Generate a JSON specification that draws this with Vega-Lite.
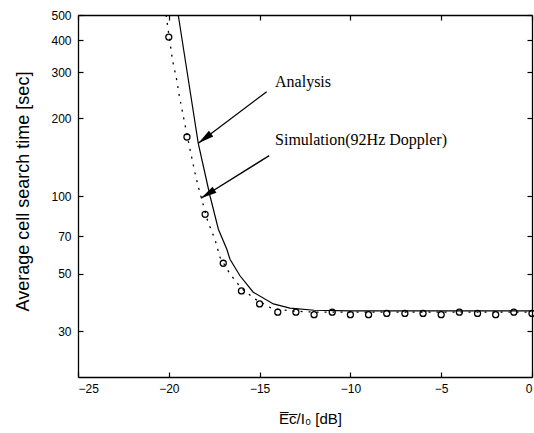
{
  "$schema": "https://vega.github.io/schema/vega-lite/v6.json",
  "autosize": "none",
  "width": 454,
  "height": 362,
  "padding": {"left": 78, "top": 15, "right": 2, "bottom": 56},
  "background": "white",
  "config": {
    "view": {"stroke": null},
    "axis": {
      "domainColor": "#000",
      "domainWidth": 1.3,
      "tickColor": "#000",
      "tickWidth": 1.2,
      "tickSize": 5,
      "grid": false,
      "labelFont": "Liberation Sans",
      "labelFontSize": 12,
      "labelColor": "#000",
      "titleFont": "Liberation Sans",
      "titleColor": "#000",
      "titleFontWeight": "normal"
    }
  },
  "datasets": {
    "analysis": [
      {"x": -19.48, "y": 500},
      {"x": -19.04, "y": 317},
      {"x": -18.38, "y": 160},
      {"x": -17.73, "y": 100},
      {"x": -17.27, "y": 74.4},
      {"x": -16.81, "y": 62.4},
      {"x": -16.63, "y": 57},
      {"x": -16.08, "y": 49.2},
      {"x": -15.35, "y": 42.5},
      {"x": -14.24, "y": 38.3},
      {"x": -13.33, "y": 36.9},
      {"x": -12, "y": 36.2},
      {"x": -10, "y": 36.0},
      {"x": 0, "y": 36.0}
    ],
    "sim": [
      {"x": -20.15, "y": 500},
      {"x": -19.8, "y": 336},
      {"x": -19.57, "y": 282},
      {"x": -19.42, "y": 243},
      {"x": -19.2, "y": 203},
      {"x": -18.83, "y": 151},
      {"x": -18.56, "y": 123},
      {"x": -18.38, "y": 109},
      {"x": -17.86, "y": 80},
      {"x": -17.46, "y": 68},
      {"x": -17.18, "y": 58},
      {"x": -16.63, "y": 50},
      {"x": -16.0, "y": 44},
      {"x": -15.25, "y": 40},
      {"x": -14.33, "y": 36.8},
      {"x": -13.3, "y": 36.0},
      {"x": -12, "y": 35.6},
      {"x": 0, "y": 35.6}
    ],
    "circles": [
      {"x": -20, "y": 411},
      {"x": -19, "y": 169},
      {"x": -18, "y": 85},
      {"x": -17, "y": 55},
      {"x": -16, "y": 43},
      {"x": -15, "y": 38.3},
      {"x": -14, "y": 35.6},
      {"x": -13, "y": 35.6},
      {"x": -12, "y": 34.8},
      {"x": -11, "y": 35.6},
      {"x": -10, "y": 34.8},
      {"x": -9, "y": 34.8},
      {"x": -8, "y": 35.2},
      {"x": -7, "y": 35.2},
      {"x": -6, "y": 35.2},
      {"x": -5, "y": 34.8},
      {"x": -4, "y": 35.6},
      {"x": -3, "y": 35.2},
      {"x": -2, "y": 34.8},
      {"x": -1, "y": 35.6},
      {"x": 0, "y": 35.2}
    ],
    "arrows": [
      {"name": "Analysis", "x": -14.61, "y": 252.8, "x2": -18.375, "y2": 159.8, "angle": 233},
      {"name": "Simulation", "x": -14.47, "y": 143.2, "x2": -18.23, "y2": 98.0, "angle": 238}
    ],
    "labels": [
      {"text": "Analysis", "x": -14.15, "y": 264.3},
      {"text": "Simulation(92Hz Doppler)", "x": -14.15, "y": 157.4}
    ]
  },
  "layer": [
    {
      "data": {"name": "analysis"},
      "mark": {"type": "line", "color": "#000", "strokeWidth": 1.2},
      "encoding": {
        "x": {
          "field": "x", "type": "quantitative",
          "scale": {"domain": [-25, 0], "nice": false, "zero": false},
          "axis": {
            "orient": "bottom",
            "values": [-25, -20, -15, -10, -5, 0],
            "format": "d",
            "ticks": false,
            "labelPadding": 6,
            "title": "E̅c̅/I₀ [dB]",
            "titleFontSize": 15,
            "titleX": 232,
            "titleY": 46,
            "titleAlign": "center",
            "titleBaseline": "alphabetic"
          }
        },
        "y": {
          "field": "y", "type": "quantitative",
          "scale": {"type": "log", "domain": [20, 500], "nice": false},
          "axis": {
            "orient": "left",
            "values": [30, 50, 70, 100, 200, 300, 400, 500],
            "format": "d",
            "ticks": false,
            "labelPadding": 7,
            "title": "Average cell search time [sec]",
            "titleFontSize": 18,
            "titleX": -55,
            "titleY": 176,
            "titleAngle": -90,
            "titleAlign": "center",
            "titleBaseline": "middle"
          }
        }
      }
    },
    {
      "data": {"name": "sim"},
      "mark": {"type": "line", "color": "#000", "strokeWidth": 1.3, "strokeDash": [2, 6]},
      "encoding": {
        "x": {
          "field": "x", "type": "quantitative",
          "scale": {"domain": [-25, 0], "nice": false, "zero": false},
          "axis": {
            "orient": "bottom",
            "offset": -362,
            "values": [-25, -20, -15, -10, -5, 0],
            "labels": false,
            "title": null
          }
        },
        "y": {
          "field": "y", "type": "quantitative",
          "scale": {"type": "log", "domain": [20, 500], "nice": false},
          "axis": {
            "orient": "left",
            "offset": -454,
            "values": [30, 50, 70, 100, 200, 300, 400, 500],
            "labels": false,
            "title": null
          }
        }
      }
    },
    {
      "data": {"name": "circles"},
      "mark": {"type": "point", "shape": "circle", "filled": false, "color": "#000", "strokeWidth": 1.3, "size": 36, "opacity": 1},
      "encoding": {
        "x": {
          "field": "x", "type": "quantitative",
          "axis": {
            "orient": "top",
            "offset": -362,
            "values": [-25, -20, -15, -10, -5, 0],
            "labels": false,
            "domain": false,
            "title": null
          }
        },
        "y": {
          "field": "y", "type": "quantitative",
          "axis": {
            "orient": "right",
            "offset": -454,
            "values": [30, 50, 70, 100, 200, 300, 400, 500],
            "labels": false,
            "domain": false,
            "title": null
          }
        }
      }
    },
    {
      "data": {"name": "arrows"},
      "mark": {"type": "rule", "color": "#000", "strokeWidth": 1.3},
      "encoding": {
        "x": {"field": "x", "type": "quantitative", "axis": null},
        "y": {"field": "y", "type": "quantitative", "axis": null},
        "x2": {"field": "x2"},
        "y2": {"field": "y2"}
      }
    },
    {
      "data": {"name": "arrows"},
      "mark": {"type": "point", "shape": "M0,0L0.45,2L-0.45,2Z", "filled": true, "color": "#000", "size": 256, "opacity": 1},
      "encoding": {
        "x": {"field": "x2", "type": "quantitative", "axis": null},
        "y": {"field": "y2", "type": "quantitative", "axis": null},
        "angle": {"field": "angle", "type": "quantitative", "scale": null}
      }
    },
    {
      "data": {"name": "labels"},
      "mark": {"type": "text", "font": "Liberation Serif", "fontSize": 16, "align": "left", "baseline": "alphabetic", "color": "#000"},
      "encoding": {
        "x": {"field": "x", "type": "quantitative", "axis": null},
        "y": {"field": "y", "type": "quantitative", "axis": null},
        "text": {"field": "text"}
      }
    }
  ],
  "resolve": {"axis": {"x": "independent", "y": "independent"}}
}
